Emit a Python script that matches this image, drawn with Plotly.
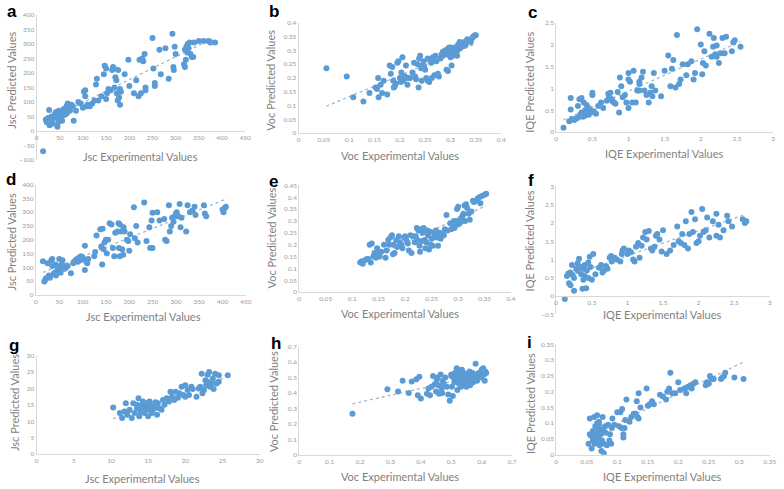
import plotly.graph_objects as go
import numpy as np

W, H = 784, 489

# ---------------- data ----------------
a_pts = [(14,-69.5),(20,40),(22,30),(25,45),(27,72),(28,20),(30,35),(32,50),(35,25),(38,45),(40,60),(42,65),(45,55),(45,15),(47,30),(48,70),(50,40),(52,50),(55,60),(55,35),(57,65),(58,75),(60,55),(62,70),(63,80),(65,85),(65,60),(67,95),(68,75),(70,80),(72,70),(75,90),(78,85),(80,35),(85,70),
         (90,100),(95,95),(100,80),(102,135),(105,140),(105,120),(108,85),(110,90),(115,85),(120,95),(125,105),(128,160),(130,180),(133,105),(140,120),(145,195),(147,225),(150,215),(150,110),(152,130),(155,145),(160,140),(163,210),(165,220),(167,215),(168,150),(170,185),(172,175),(173,130),(175,105),(176,210),(178,115),(180,90),(180,145),(182,135),(190,195),(198,245),(200,155),(210,130),(215,175),(220,120),(222,245),(225,130),(228,250),(230,240),(233,265),(235,150),(235,140),(250,320),(252,215),(255,165),(255,155),(265,280),(268,195),(278,285),(285,180),(293,335),(295,220),(296,210),(298,290),(300,265),(318,230),(320,220),(320,280),(322,245),(323,290),(325,270),(326,300),(328,285),(330,305),(332,265),(335,255),(338,255),(340,305),(350,310),(360,310),(370,310),(375,305),(385,305)]
b_pts = [(0.055,0.235),(0.095,0.205),(0.108,0.13),(0.128,0.115),(0.14,0.145),(0.152,0.165),(0.155,0.16),(0.157,0.2),(0.158,0.13),(0.162,0.175),(0.165,0.145),(0.168,0.19),(0.175,0.14),(0.18,0.245),(0.182,0.215),(0.185,0.24),(0.187,0.19),(0.188,0.165),(0.19,0.17),(0.192,0.18),(0.195,0.255),(0.197,0.26),(0.2,0.2),(0.202,0.185),(0.203,0.22),(0.205,0.275),(0.207,0.19),(0.21,0.205),(0.212,0.245),(0.213,0.2),(0.215,0.175),(0.218,0.2),(0.22,0.2),(0.225,0.22),(0.228,0.255),(0.23,0.205),(0.232,0.195),(0.235,0.25),(0.237,0.165),(0.238,0.27),(0.24,0.28),(0.242,0.235),(0.243,0.19),(0.245,0.245),(0.247,0.26),(0.248,0.24),(0.25,0.23),(0.252,0.2),(0.255,0.19),(0.255,0.27),(0.258,0.185),(0.26,0.265),(0.262,0.255),(0.263,0.2),(0.265,0.275),(0.268,0.21),(0.27,0.28),(0.272,0.26),(0.275,0.215),(0.277,0.205),(0.28,0.27),(0.282,0.285),(0.285,0.28),(0.288,0.29),(0.29,0.3),(0.29,0.295),(0.292,0.23),(0.293,0.285),(0.295,0.225),(0.295,0.305),(0.297,0.29),(0.298,0.3),(0.3,0.275),(0.3,0.31),(0.302,0.245),(0.303,0.295),(0.305,0.3),(0.307,0.29),(0.308,0.31),(0.31,0.285),(0.312,0.295),(0.313,0.28),(0.315,0.32),(0.317,0.305),(0.318,0.33),(0.32,0.31),(0.322,0.325),(0.325,0.315),(0.327,0.33),(0.33,0.32),(0.333,0.34),(0.337,0.335),(0.34,0.33),(0.343,0.345),(0.345,0.35),(0.348,0.355),(0.35,0.355),(0.285,0.295),(0.297,0.31),(0.305,0.28)]
c_pts = [(0.1,0.1),(0.18,0.25),(0.2,0.78),(0.2,0.52),(0.22,0.3),(0.25,0.28),(0.28,0.32),(0.3,0.6),(0.3,0.33),(0.32,0.75),(0.33,0.4),(0.35,0.78),(0.35,0.45),(0.37,0.35),(0.38,0.68),(0.4,0.5),(0.4,0.38),(0.42,0.62),(0.43,0.45),(0.45,0.55),(0.45,0.4),(0.47,0.5),(0.48,0.45),(0.5,0.9),(0.5,0.85),(0.52,0.48),(0.55,0.42),(0.58,0.6),(0.62,0.68),(0.65,0.55),(0.7,0.72),(0.72,0.88),(0.73,0.8),(0.75,0.9),(0.77,0.75),(0.78,0.7),(0.8,0.68),(0.82,0.65),(0.85,0.92),(0.87,0.45),(0.88,1.25),(0.9,1.05),(0.92,0.8),(0.95,0.85),(0.97,0.68),(1.0,1.35),(1.0,1.2),(1.0,0.55),(1.02,1.15),(1.05,0.68),(1.07,1.4),(1.1,0.68),(1.12,0.95),(1.15,1.1),(1.15,1.15),(1.18,1.25),(1.2,1.38),(1.22,0.95),(1.25,0.85),(1.28,0.68),(1.3,0.9),(1.32,1.05),(1.33,0.82),(1.35,1.35),(1.37,0.95),(1.45,0.82),(1.5,1.4),(1.55,1.75),(1.58,1.05),(1.6,1.45),(1.62,1.65),(1.65,1.02),(1.67,2.22),(1.7,1.1),(1.72,1.2),(1.75,1.55),(1.8,1.3),(1.82,1.55),(1.87,1.62),(1.9,1.2),(1.92,1.35),(1.95,2.35),(2.0,2.0),(2.02,1.32),(2.03,1.58),(2.05,1.85),(2.07,1.52),(2.12,2.25),(2.15,1.72),(2.17,1.95),(2.18,2.15),(2.2,1.78),(2.22,1.72),(2.22,1.98),(2.25,1.58),(2.28,1.8),(2.3,2.15),(2.33,1.8),(2.35,2.18),(2.43,1.85),(2.45,2.05),(2.47,2.1),(2.55,1.95),(1.15,0.95),(0.35,0.38)]
d_pts = [(15,122),(18,48),(20,55),(22,60),(25,115),(27,65),(28,70),(30,62),(33,125),(35,130),(35,105),(38,75),(40,80),(42,110),(43,70),(45,85),(47,95),(48,100),(50,130),(50,90),(52,105),(53,80),(55,95),(55,110),(57,125),(58,100),(60,105),(62,95),(65,100),(68,105),(75,78),(80,115),(82,120),(85,125),(88,130),(90,120),(93,135),(95,125),(97,140),(100,135),(102,130),(105,90),(105,178),(108,120),(110,115),(112,130),(125,140),(127,155),(130,215),(138,238),(140,175),(142,110),(143,240),(145,165),(147,190),(150,200),(152,150),(155,200),(158,260),(162,255),(165,170),(168,140),(170,225),(175,230),(177,260),(178,170),(180,255),(180,140),(182,230),(185,165),(187,145),(188,245),(190,230),(195,200),(198,195),(200,160),(202,220),(210,318),(212,205),(215,250),(218,190),(232,335),(237,195),(243,245),(245,170),(248,270),(250,170),(250,298),(260,300),(265,270),(275,275),(277,200),(280,195),(285,325),(287,230),(290,250),(292,280),(295,265),(298,285),(300,295),(302,300),(305,285),(308,330),(310,245),(312,280),(322,230),(325,325),(330,300),(335,305),(340,320),(342,290),(360,325),(362,295),(365,285),(400,310),(402,300),(405,315),(407,320)]
e_pts = [(0.115,0.125),(0.118,0.13),(0.12,0.12),(0.125,0.135),(0.128,0.14),(0.13,0.14),(0.133,0.2),(0.135,0.125),(0.137,0.205),(0.14,0.15),(0.142,0.165),(0.145,0.145),(0.147,0.185),(0.15,0.17),(0.152,0.15),(0.155,0.17),(0.16,0.2),(0.163,0.145),(0.165,0.175),(0.168,0.22),(0.17,0.2),(0.172,0.23),(0.175,0.24),(0.177,0.16),(0.178,0.2),(0.18,0.165),(0.183,0.22),(0.185,0.19),(0.188,0.235),(0.19,0.21),(0.193,0.2),(0.195,0.185),(0.198,0.23),(0.2,0.235),(0.202,0.22),(0.205,0.205),(0.207,0.175),(0.21,0.24),(0.212,0.165),(0.215,0.235),(0.218,0.21),(0.22,0.235),(0.222,0.27),(0.223,0.22),(0.225,0.26),(0.227,0.195),(0.228,0.17),(0.23,0.265),(0.232,0.215),(0.233,0.25),(0.235,0.27),(0.237,0.22),(0.238,0.185),(0.24,0.21),(0.242,0.26),(0.243,0.24),(0.245,0.18),(0.247,0.255),(0.248,0.2),(0.25,0.225),(0.252,0.195),(0.255,0.245),(0.258,0.26),(0.26,0.23),(0.262,0.195),(0.265,0.25),(0.267,0.225),(0.27,0.245),(0.273,0.24),(0.275,0.265),(0.278,0.325),(0.28,0.26),(0.285,0.29),(0.287,0.265),(0.29,0.28),(0.292,0.3),(0.293,0.27),(0.295,0.295),(0.297,0.3),(0.298,0.35),(0.3,0.36),(0.3,0.285),(0.302,0.3),(0.303,0.29),(0.305,0.31),(0.307,0.3),(0.308,0.32),(0.31,0.33),(0.312,0.365),(0.313,0.3),(0.315,0.37),(0.317,0.355),(0.32,0.33),(0.322,0.305),(0.325,0.34),(0.328,0.385),(0.33,0.38),(0.333,0.385),(0.337,0.395),(0.34,0.4),(0.342,0.375),(0.345,0.405),(0.35,0.41),(0.353,0.415)]
f_pts = [(0.12,-0.08),(0.15,0.55),(0.17,0.62),(0.18,0.35),(0.2,0.65),(0.2,0.3),(0.22,0.85),(0.23,0.58),(0.25,0.15),(0.25,0.5),(0.28,0.75),(0.3,0.7),(0.3,0.9),(0.32,1.02),(0.35,0.8),(0.35,0.6),(0.37,0.2),(0.38,0.45),(0.38,0.75),(0.4,0.85),(0.4,0.55),(0.42,0.22),(0.43,0.7),(0.45,0.5),(0.45,0.92),(0.47,1.08),(0.48,0.8),(0.5,0.45),(0.52,1.15),(0.55,0.6),(0.6,0.78),(0.63,0.85),(0.65,0.65),(0.67,0.7),(0.7,0.82),(0.72,0.75),(0.75,1.05),(0.77,1.1),(0.78,0.95),(0.8,1.0),(0.82,1.05),(0.85,1.0),(0.9,0.95),(0.92,1.15),(0.93,1.25),(0.95,1.3),(1.0,1.15),(1.02,1.25),(1.05,1.2),(1.08,1.0),(1.1,0.95),(1.12,1.35),(1.15,1.45),(1.17,1.05),(1.2,1.38),(1.22,1.6),(1.25,1.75),(1.27,1.55),(1.3,1.78),(1.33,1.3),(1.35,1.25),(1.38,1.35),(1.4,1.65),(1.42,1.7),(1.45,1.55),(1.48,1.22),(1.5,1.8),(1.55,1.15),(1.6,1.25),(1.65,1.4),(1.7,1.9),(1.72,1.5),(1.75,1.45),(1.77,1.7),(1.8,1.4),(1.82,2.05),(1.85,1.3),(1.87,1.7),(1.9,2.3),(1.92,1.75),(1.95,2.1),(1.97,1.45),(2.0,1.5),(2.02,1.65),(2.05,2.38),(2.07,1.75),(2.1,1.8),(2.12,2.15),(2.15,1.6),(2.2,2.05),(2.25,2.25),(2.25,1.65),(2.28,1.95),(2.3,1.6),(2.35,1.8),(2.4,2.2),(2.42,2.05),(2.47,1.9),(2.62,2.1),(2.65,2.0),(2.67,2.05)]
g_pts = [(10.3,14.2),(11.2,12.5),(11.5,11),(11.8,13),(12,15.5),(12.2,12),(12.5,13.5),(12.8,11),(13,15.5),(13.2,12.5),(13.5,14),(13.7,17),(13.8,11.5),(14,13),(14.2,15),(14.3,16),(14.5,12.5),(14.7,14),(14.8,15.5),(15,11.5),(15,13.5),(15.2,16),(15.3,14.5),(15.5,12.5),(15.6,15),(15.8,13.8),(16,14.5),(16.2,12),(16.3,15.5),(16.5,14),(16.8,13.5),(17,16.5),(17.2,15),(17.5,17),(17.8,16),(18,19),(18.2,17.5),(18.5,16.5),(18.7,19),(19,17.2),(19.2,18.5),(19.5,20.5),(19.7,18),(20,21),(20,17.5),(20.3,19.5),(20.5,18),(20.8,20.5),(21,19.8),(21.5,17.5),(21.8,20),(22,20.5),(22.2,24.5),(22.3,18.5),(22.5,19.5),(22.8,21),(23,22),(23.2,25),(23.3,20.5),(23.5,21.5),(23.7,23),(23.8,19.8),(24,24.5),(24.2,21.5),(24.5,22),(24.5,24),(25.7,24),(23,24.2),(22.7,22.5),(14.5,14.2),(15,15),(15.5,14),(13.5,15),(14,14.5),(16,15.8)]
h_pts = [(0.175,0.265),(0.29,0.425),(0.325,0.41),(0.34,0.48),(0.36,0.4),(0.37,0.475),(0.385,0.49),(0.39,0.385),(0.395,0.505),(0.4,0.365),(0.42,0.395),(0.425,0.43),(0.43,0.385),(0.435,0.44),(0.44,0.51),(0.445,0.455),(0.45,0.41),(0.452,0.485),(0.455,0.5),(0.458,0.45),(0.46,0.395),(0.465,0.52),(0.468,0.43),(0.47,0.4),(0.472,0.48),(0.475,0.46),(0.48,0.5),(0.485,0.44),(0.49,0.39),(0.495,0.35),(0.5,0.52),(0.502,0.44),(0.505,0.38),(0.508,0.5),(0.51,0.47),(0.512,0.53),(0.515,0.49),(0.518,0.56),(0.52,0.42),(0.522,0.5),(0.525,0.46),(0.528,0.52),(0.53,0.48),(0.532,0.44),(0.535,0.55),(0.538,0.5),(0.54,0.45),(0.542,0.53),(0.545,0.47),(0.548,0.5),(0.55,0.44),(0.552,0.49),(0.555,0.52),(0.558,0.47),(0.56,0.54),(0.562,0.45),(0.565,0.51),(0.568,0.49),(0.57,0.53),(0.572,0.47),(0.575,0.52),(0.58,0.59),(0.582,0.5),(0.585,0.48),(0.59,0.53),(0.595,0.52),(0.598,0.5),(0.6,0.55),(0.602,0.53),(0.605,0.56),(0.608,0.52),(0.61,0.48),(0.612,0.54),(0.615,0.53),(0.5,0.51),(0.525,0.54),(0.545,0.51)]
i_pts = [(0.053,0.035),(0.055,0.065),(0.055,0.115),(0.057,0.06),(0.058,0.02),(0.06,0.045),(0.06,0.075),(0.062,0.05),(0.062,0.12),(0.063,0.035),(0.064,0.09),(0.065,0.07),(0.066,0.04),(0.067,0.125),(0.067,0.1),(0.068,0.06),(0.069,0.085),(0.07,0.05),(0.07,0.095),(0.071,0.03),(0.072,0.075),(0.073,0.065),(0.074,0.012),(0.075,0.045),(0.076,0.12),(0.077,0.08),(0.078,0.005),(0.078,0.035),(0.08,0.09),(0.081,0.07),(0.083,0.03),(0.085,0.095),(0.087,0.045),(0.088,0.065),(0.09,0.035),(0.091,0.085),(0.092,0.115),(0.095,0.095),(0.1,0.135),(0.103,0.09),(0.105,0.135),(0.107,0.085),(0.108,0.145),(0.11,0.055),(0.11,0.065),(0.112,0.085),(0.113,0.11),(0.115,0.175),(0.12,0.105),(0.123,0.12),(0.127,0.13),(0.13,0.13),(0.132,0.17),(0.133,0.12),(0.135,0.195),(0.135,0.115),(0.138,0.15),(0.148,0.21),(0.15,0.155),(0.153,0.16),(0.157,0.17),(0.16,0.16),(0.17,0.19),(0.175,0.185),(0.18,0.175),(0.182,0.2),(0.185,0.21),(0.187,0.26),(0.19,0.195),(0.195,0.195),(0.2,0.23),(0.203,0.205),(0.21,0.21),(0.213,0.195),(0.215,0.215),(0.22,0.22),(0.222,0.21),(0.225,0.225),(0.228,0.23),(0.245,0.22),(0.247,0.23),(0.25,0.225),(0.252,0.25),(0.255,0.24),(0.258,0.24),(0.27,0.24),(0.272,0.245),(0.275,0.25),(0.277,0.26),(0.292,0.245),(0.307,0.24),(0.065,0.06),(0.07,0.105)]

x_titles = ["Jsc Experimental Values", "Voc Experimental Values", "IQE Experimental Values"]
y_titles = ["Jsc Predicted Values", "Voc Predicted Values", "IQE Predicted Values"]
letters = ["a", "b", "c", "d", "e", "f", "g", "h", "i"]

# ---------------- layout specs (pixel boxes) ----------------
specs = [
    (a_pts, [0, 450], [-100, 400], 50, 50, 35, 246, 11, 158.3, (140, 155), (10, 77), (10, 8), 0),
    (b_pts, [0, 0.4], [0, 0.4], 0.05, 0.05, 300, 505, 19, 131, (403, 154), (272, 77), (275, 8), 1),
    (c_pts, [0, 3], [0, 2.5], 0.5, 0.5, 560.7, 780, 19, 130, (670, 152), (534, 79), (537, 9), 2),
    (d_pts, [0, 450], [0, 400], 50, 50, 34.3, 246.7, 183.3, 295, (143, 317), (10, 241), (9, 178), 0),
    (e_pts, [0, 0.4], [0, 0.45], 0.05, 0.05, 300.7, 515, 184, 292.3, (403, 314), (273, 237), (275, 180), 1),
    (f_pts, [0, 3], [-0.5, 3], 0.5, 0.5, 560.7, 776.7, 185, 315, (668, 315), (534, 240), (535, 179), 2),
    (g_pts, [0, 30], [0, 30], 5, 5, 35, 260.7, 356.7, 456.7, (142, 481), (12, 404), (12, 346), 0),
    (h_pts, [0, 0.7], [0, 0.7], 0.1, 0.1, 300.7, 516, 347.7, 457.3, (403, 479), (274, 403), (277, 344), 1),
    (i_pts, [0, 0.35], [0, 0.35], 0.05, 0.05, 560.7, 776.7, 345.3, 457.3, (668, 479), (534, 405), (534, 343), 2),
]

MARKER = "#5B9BD5"
TREND = "#A3B6CC"
AXIS = "#D9D9D9"
TICK = "#9A9A9A"
TITLE = "#7F7F7F"
FONT = "Lato, sans-serif"

fig = go.Figure()
layout = dict(width=W, height=H, margin=dict(l=0, r=0, t=0, b=0),
              paper_bgcolor="white", plot_bgcolor="white", showlegend=False)
annotations = []

for k, (pts, xr, yr, xd, yd, pl, pr, pt, pb, xtp, ytp, lp, col) in enumerate(specs):
    n = k + 1
    xa = "x" if n == 1 else f"x{n}"
    ya = "y" if n == 1 else f"y{n}"
    xs = [p[0] for p in pts]
    ys = [p[1] for p in pts]
    m, c = np.polyfit(xs, ys, 1)
    tx = [min(xs), max(xs)]
    ty = [m * t + c for t in tx]
    fig.add_trace(go.Scatter(x=tx, y=ty, mode="lines", xaxis=xa, yaxis=ya,
                             line=dict(color=TREND, width=1.3, dash="dot"), hoverinfo="skip"))
    fig.add_trace(go.Scatter(x=xs, y=ys, mode="markers", xaxis=xa, yaxis=ya,
                             marker=dict(color=MARKER, size=6, line=dict(width=0))))
    dom_x = [pl / W, pr / W]
    dom_y = [1 - pb / H, 1 - pt / H]
    xkey = "xaxis" if n == 1 else f"xaxis{n}"
    ykey = "yaxis" if n == 1 else f"yaxis{n}"
    xaxis = dict(domain=dom_x, range=xr, dtick=xd, tick0=0, showgrid=False, zeroline=False,
                 showline=True, linecolor=AXIS, linewidth=1, ticks="",
                 tickfont=dict(size=6.5, color=TICK, family=FONT), fixedrange=True)
    if yr[0] < 0:
        frac = (0 - yr[0]) / (yr[1] - yr[0])
        xaxis.update(anchor="free", position=dom_y[0] + frac * (dom_y[1] - dom_y[0]))
    else:
        xaxis.update(anchor=ya)
    yaxis = dict(domain=dom_y, range=yr, dtick=yd, tick0=0, anchor=xa, showgrid=False,
                 zeroline=False, showline=True, linecolor=AXIS, linewidth=1, ticks="",
                 tickfont=dict(size=6.5, color=TICK, family=FONT), fixedrange=True)
    layout[xkey] = xaxis
    layout[ykey] = yaxis

    annotations.append(dict(text=x_titles[col], x=xtp[0] / W, y=1 - xtp[1] / H, xref="paper", yref="paper",
                            xanchor="center", yanchor="middle", showarrow=False, borderpad=0,
                            font=dict(size=11, color=TITLE, family=FONT)))
    annotations.append(dict(text=y_titles[col], x=ytp[0] / W, y=1 - ytp[1] / H, xref="paper", yref="paper",
                            xanchor="center", yanchor="middle", showarrow=False, textangle=-90, borderpad=0,
                            font=dict(size=11, color=TITLE, family=FONT)))
    annotations.append(dict(text="<b>" + letters[k] + "</b>", x=lp[0] / W, y=1 - lp[1] / H,
                            xref="paper", yref="paper", xanchor="center", yanchor="middle",
                            showarrow=False, borderpad=0,
                            font=dict(size=17, color="black", family="Liberation Sans, Arial")))

layout["annotations"] = annotations
fig.update_layout(**layout)
fig.write_html("out.html", config={"displayModeBar": False},
               post_script="document.body.style.margin='0';document.body.style.overflow='hidden';")
